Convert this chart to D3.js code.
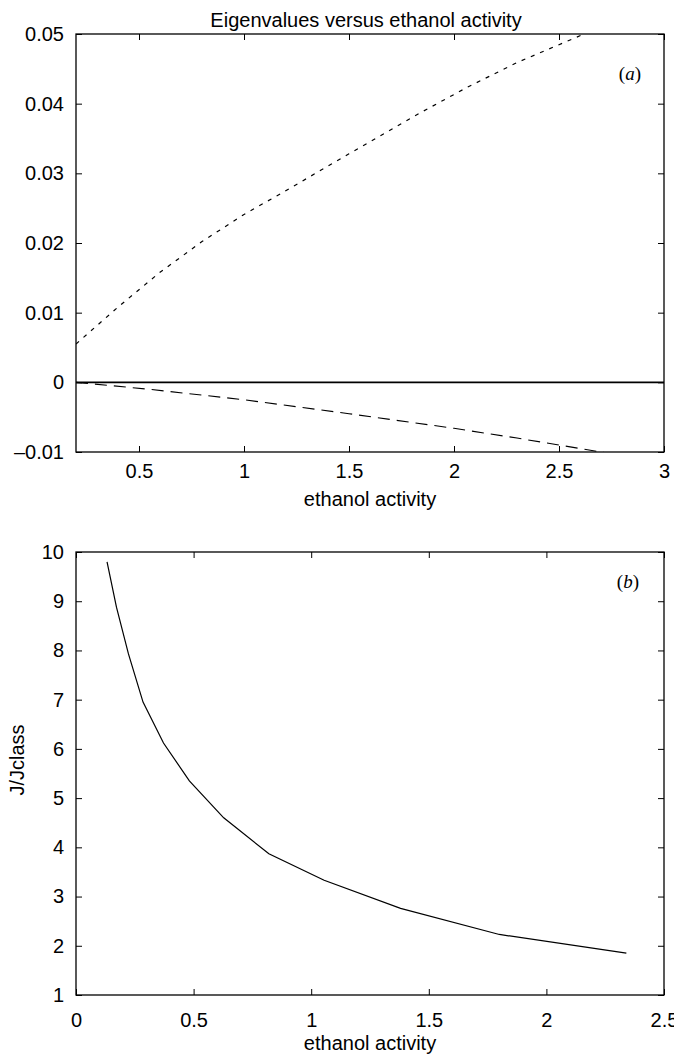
<!DOCTYPE html>
<html>
<head>
<meta charset="utf-8">
<script src="https://cdn.jsdelivr.net/npm/d3@7"></script>
<style>
  html, body { margin: 0; padding: 0; background: #fff; }
  svg { display: block; }
  text { font-family: "Liberation Sans", Arial, sans-serif; fill: #000; }
</style>
</head>
<body>
<svg id="chart" width="674" height="1055"></svg>
<script>
// ---------- data ----------
const titleA = "Eigenvalues versus ethanol activity";
const xLabel = "ethanol activity";
const yLabelB = "J/Jclass";

// panel (a): eigenvalues vs ethanol activity
const eigUpperX = [0.2, 0.4, 0.6, 0.8, 1.0, 1.17, 1.5, 1.84, 2.06, 2.3, 2.62, 2.75];
const eigUpperY = [0.0055, 0.0108, 0.0158, 0.0202, 0.0241, 0.0270, 0.0328, 0.0387, 0.0423, 0.0459, 0.0500, 0.0516];
const eigLowerX = [0.2, 0.55, 1.0, 1.5, 2.0, 2.3, 2.72, 2.85];
const eigLowerY = [0.0, -0.0010, -0.0025, -0.0045, -0.0066, -0.0080, -0.0101, -0.0108];
const eigZeroX = [0.2, 3.0];
const eigZeroY = [0.0, 0.0];

const xTicksA = [0.5, 1, 1.5, 2, 2.5, 3];
const xTickLabelsA = ["0.5", "1", "1.5", "2", "2.5", "3"];
const yTicksA = [0.05, 0.04, 0.03, 0.02, 0.01, 0, -0.01];
const yTickLabelsA = ["0.05", "0.04", "0.03", "0.02", "0.01", "0", "\u20130.01"];

// panel (b): J/Jclass vs ethanol activity
const ratioX = [0.132, 0.172, 0.223, 0.285, 0.372, 0.482, 0.628, 0.82, 1.055, 1.38, 1.80, 2.34];
const ratioY = [9.80, 8.88, 7.93, 6.95, 6.12, 5.35, 4.60, 3.87, 3.33, 2.76, 2.23, 1.85];

const xTicksB = [0, 0.5, 1, 1.5, 2, 2.5];
const xTickLabelsB = ["0", "0.5", "1", "1.5", "2", "2.5"];
const yTicksB = [10, 9, 8, 7, 6, 5, 4, 3, 2, 1];
const yTickLabelsB = ["10", "9", "8", "7", "6", "5", "4", "3", "2", "1"];

// ---------- layout ----------
const svg = d3.select("#chart");
const L = 76, R = 664;
const panelA = { top: 34, bottom: 452, xPad: 12 };
const panelB = { top: 552, bottom: 995, xPad: 18 };
const tickLen = 6;
const fontSize = 20;

const xA = d3.scaleLinear().domain([0.2, 3]).range([L, R]);
const yA = d3.scaleLinear().domain([-0.01, 0.05]).range([panelA.bottom, panelA.top]);
const xB = d3.scaleLinear().domain([0, 2.5]).range([L, R]);
const yB = d3.scaleLinear().domain([1, 10]).range([panelB.bottom, panelB.top]);

function frame(g, x, y, xt, xtl, yt, ytl, panel) {
  const top = panel.top, bottom = panel.bottom;
  const fmtX = (d) => xtl[xt.indexOf(d)];
  const fmtY = (d) => ytl[yt.indexOf(d)];
  g.append("g").attr("transform", `translate(0,${bottom})`)
    .call(d3.axisBottom(x).tickValues(xt).tickFormat(fmtX).tickSizeInner(-tickLen).tickSizeOuter(0).tickPadding(panel.xPad))
    .call(s => s.select(".domain").remove());
  g.append("g").attr("transform", `translate(0,${top})`)
    .call(d3.axisTop(x).tickValues(xt).tickFormat("").tickSizeInner(-tickLen).tickSizeOuter(0))
    .call(s => s.select(".domain").remove());
  g.append("g").attr("transform", `translate(${L},0)`)
    .call(d3.axisLeft(y).tickValues(yt).tickFormat(fmtY).tickSizeInner(-tickLen).tickSizeOuter(0).tickPadding(12))
    .call(s => s.select(".domain").remove());
  g.append("g").attr("transform", `translate(${R},0)`)
    .call(d3.axisRight(y).tickValues(yt).tickFormat("").tickSizeInner(-tickLen).tickSizeOuter(0))
    .call(s => s.select(".domain").remove());
  g.selectAll(".tick line").attr("stroke", "#000").attr("stroke-width", 1);
  g.selectAll(".tick text").style("font-size", fontSize + "px").style("font-family", "Liberation Sans, Arial, sans-serif").attr("fill", "#000");
  g.append("rect").attr("x", L).attr("y", top).attr("width", R - L).attr("height", bottom - top)
    .attr("fill", "none").attr("stroke", "#000").attr("stroke-width", 1.3);
}

// ---------- panel (a) ----------
const gA = svg.append("g");
svg.append("clipPath").attr("id", "clipA").append("rect")
  .attr("x", L).attr("y", panelA.top).attr("width", R - L).attr("height", panelA.bottom - panelA.top);

const lineA = d3.line().x(d => xA(d[0])).y(d => yA(d[1]));
const curves = gA.append("g").attr("clip-path", "url(#clipA)");
curves.append("path").datum(d3.zip(eigZeroX, eigZeroY)).attr("d", lineA)
  .attr("fill", "none").attr("stroke", "#000").attr("stroke-width", 1.6);
curves.append("path").datum(d3.zip(eigUpperX, eigUpperY)).attr("d", lineA)
  .attr("fill", "none").attr("stroke", "#000").attr("stroke-width", 1.2).attr("stroke-dasharray", "4,6");
curves.append("path").datum(d3.zip(eigLowerX, eigLowerY)).attr("d", lineA)
  .attr("fill", "none").attr("stroke", "#000").attr("stroke-width", 1.1).attr("stroke-dasharray", "12,7");

frame(gA, xA, yA, xTicksA, xTickLabelsA, yTicksA, yTickLabelsA, panelA);

svg.append("text").attr("x", (L + R) / 2 - 4).attr("y", 27).attr("text-anchor", "middle")
  .style("font-size", fontSize + "px").text(titleA);
svg.append("text").attr("x", (L + R) / 2).attr("y", 506).attr("text-anchor", "middle")
  .style("font-size", fontSize + "px").text(xLabel);

const labA = svg.append("text").attr("x", 641).attr("y", 80).attr("text-anchor", "end")
  .style("font-family", "Liberation Serif, Times New Roman, serif").style("font-size", "19px");
labA.append("tspan").text("(");
labA.append("tspan").style("font-style", "italic").text("a");
labA.append("tspan").text(")");

// ---------- panel (b) ----------
const gB = svg.append("g");
const lineB = d3.line().x(d => xB(d[0])).y(d => yB(d[1]));
gB.append("path").datum(d3.zip(ratioX, ratioY)).attr("d", lineB)
  .attr("fill", "none").attr("stroke", "#000").attr("stroke-width", 1.2);

frame(gB, xB, yB, xTicksB, xTickLabelsB, yTicksB, yTickLabelsB, panelB);

svg.append("text").attr("x", (L + R) / 2).attr("y", 1050).attr("text-anchor", "middle")
  .style("font-size", fontSize + "px").text(xLabel);
svg.append("text").attr("transform", `translate(24,760) rotate(-90)`).attr("text-anchor", "middle")
  .style("font-size", fontSize + "px").text(yLabelB);

const labB = svg.append("text").attr("x", 639).attr("y", 588).attr("text-anchor", "end")
  .style("font-family", "Liberation Serif, Times New Roman, serif").style("font-size", "19px");
labB.append("tspan").text("(");
labB.append("tspan").style("font-style", "italic").text("b");
labB.append("tspan").text(")");
</script>
</body>
</html>
